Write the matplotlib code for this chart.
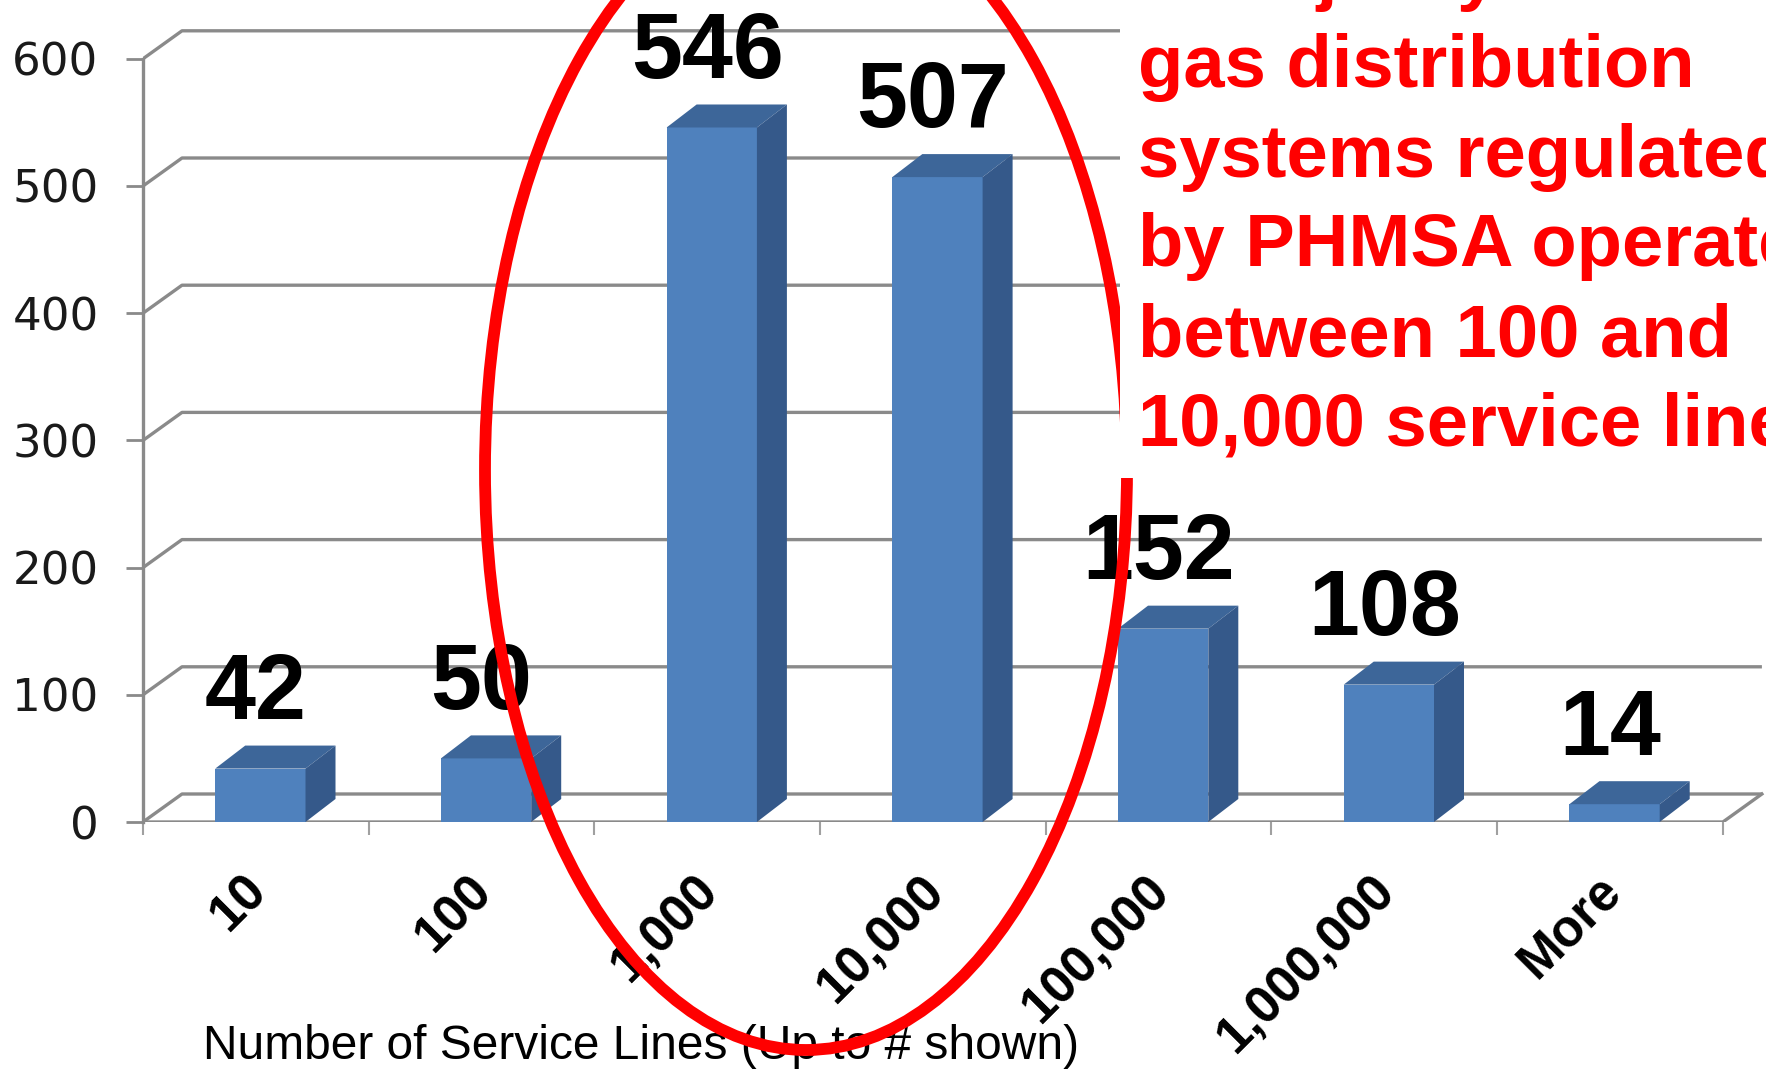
import matplotlib.pyplot as plt
from matplotlib.patches import Polygon, Ellipse, Rectangle
import numpy as np

# --- data ---
categories = ["10", "100", "1,000", "10,000", "100,000", "1,000,000", "More"]
counts = [42, 50, 546, 507, 152, 108, 14]
y_ticks = [0, 100, 200, 300, 400, 500, 600]
x_label = "Number of Service Lines (Up to # shown)"
note_lines = [
    "A majority of",
    "gas distribution",
    "systems regulated",
    "by PHMSA operate",
    "between 100 and",
    "10,000 service lines",
]

# --- style ---
FRONT = '#4F81BD'
TOP = '#3D6699'
SIDE = '#35598A'
GRID = '#8a8a8a'
plt.rcParams['font.family'] = ['Liberation Sans', 'DejaVu Sans']

W, H = 1766, 1070
X0, Y0 = 143, 822        # pixel position of the front floor corner
CAT_PX = 225.7           # pixels per category
UNIT_PX = 1.272          # pixels per count

n = len(categories)
wall_dx, wall_dy = 39 / CAT_PX, 28 / UNIT_PX
bar_dx, bar_dy = 30 / CAT_PX, 23 / UNIT_PX
bar_off, bar_w = 0.32, 0.40

fig = plt.figure(figsize=(W / 100, H / 100), dpi=100)
ax = fig.add_axes([X0 / W, (H - Y0) / H, (W - X0) / W, Y0 / H])
ax.set_xlim(0, (W - X0) / CAT_PX)
ax.set_ylim(0, Y0 / UNIT_PX)

# back wall gridlines with their side-wall diagonals
for v in y_ticks:
    ax.plot([0, wall_dx, n + wall_dx], [v, v + wall_dy, v + wall_dy],
            color=GRID, lw=2.4, zorder=1, solid_capstyle='butt')
# floor outline
ax.plot([0, n, n + wall_dx], [0, 0, wall_dy], color=GRID, lw=2.4, zorder=1)

# bars: front face from ax.bar, top and side faces as polygons
x_front = np.arange(n) + bar_off
ax.bar(x_front, counts, width=bar_w, align='edge', color=FRONT, zorder=3)
for xf, v in zip(x_front, counts):
    top = [(xf, v), (xf + bar_w, v), (xf + bar_w + bar_dx, v + bar_dy), (xf + bar_dx, v + bar_dy)]
    side = [(xf + bar_w, 0), (xf + bar_w + bar_dx, bar_dy),
            (xf + bar_w + bar_dx, v + bar_dy), (xf + bar_w, v)]
    ax.add_patch(Polygon(top, closed=True, facecolor=TOP, edgecolor='none', zorder=3))
    ax.add_patch(Polygon(side, closed=True, facecolor=SIDE, edgecolor='none', zorder=3))

# value labels
for i, v in enumerate(counts):
    ax.text(i + 0.5, v + 39, str(v), ha='center', va='baseline',
            fontsize=66, fontweight='bold', color='black', zorder=4)

# axes styling
for s in ['top', 'right', 'bottom']:
    ax.spines[s].set_visible(False)
ax.spines['left'].set_bounds(0, 600)
ax.spines['left'].set_color(GRID)
ax.spines['left'].set_linewidth(2.4)

ax.set_yticks(y_ticks)
ax.tick_params(axis='y', length=12, width=2, color=GRID, pad=20,
               labelsize=32.5, labelcolor='#1a1a1a')
for t in ax.get_yticklabels():
    t.set_fontfamily('DejaVu Sans')

ax.set_xticks(range(n + 1), [''] * (n + 1))
ax.tick_params(axis='x', which='major', length=9.5, width=1.5, color='#a0a0a0')
ax.set_xticks(np.arange(n) + 0.515, categories, minor=True, rotation=45,
              ha='right', va='center', rotation_mode='anchor',
              fontsize=37, fontweight='bold')
ax.tick_params(axis='x', which='minor', length=0, pad=44)

ax.set_xlabel(x_label, fontsize=34.5, ha='left', va='baseline')
ax.xaxis.set_label_coords((203 - X0) / (W - X0), (Y0 - 1059) / Y0)

# red circle around the 1,000 and 10,000 bars
ax.add_patch(Ellipse(((806 - X0) / CAT_PX, (Y0 - 470) / UNIT_PX),
                     642 / CAT_PX, 1160 / UNIT_PX, fill=False,
                     edgecolor='#ff0000', lw=8.5, zorder=6, clip_on=False))

# white note box with red text
ax.add_patch(Rectangle(((1120 - X0) / CAT_PX, (Y0 - 478) / UNIT_PX), 3, 500,
                       facecolor='white', edgecolor='none', zorder=7, clip_on=False))
for k, line in enumerate(note_lines):
    base_px = -3 + 89.8 * k
    ax.text((1138 - X0) / CAT_PX, (Y0 - base_px) / UNIT_PX, line,
            ha='left', va='baseline', fontsize=53.5, fontweight='bold',
            color='#ff0000', zorder=8, clip_on=False)

fig.savefig('out.png', dpi=100)
